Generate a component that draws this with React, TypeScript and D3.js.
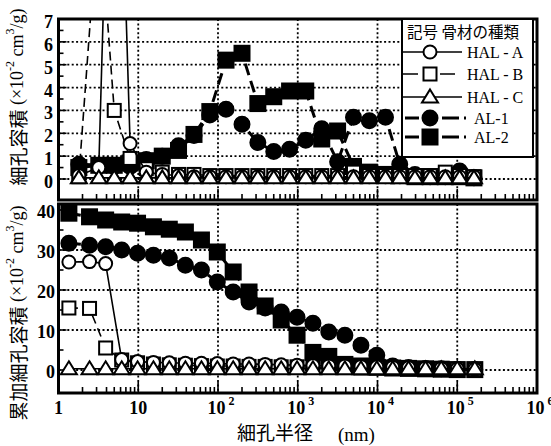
import * as d3 from "d3";

// 細孔半径 (nm) — 分布(上段)と累加(下段)の測定点
const radiusDist = [1.8, 3.2, 5.0, 7.9, 12.6, 20, 32, 50, 79, 126, 200, 316, 500, 790, 1260, 2000, 3160, 5000, 7900, 12600, 19000, 29500, 45700, 70800, 107000, 162000];
const radiusCum = [1.35, 2.45, 3.9, 6.2, 9.8, 15.5, 24.5, 39, 62, 98, 155, 245, 390, 620, 980, 1550, 2450, 3900, 6200, 9800, 15500, 24500, 40000, 63000, 100000, 166000];

// 細孔容積 (×10^-2 cm3/g)
const distHALA = [0.15, 0.5, 24.0, 1.55, 0.3, 0.2, 0.15, 0.1, 0.1, 0.1, 0.1, 0.1, 0.1, 0.1, 0.1, 0.1, 0.1, 0.1, 0.1, 0.1, 0.1, 0.1, 0.1, 0.1, 0.1, 0.1];
const distHALB = [0.1, 12.0, 3.0, 0.9, 0.45, 0.3, 0.2, 0.2, 0.15, 0.15, 0.15, 0.15, 0.15, 0.15, 0.15, 0.15, 0.15, 0.3, 0.15, 0.15, 0.15, 0.15, 0.15, 0.3, 0.15, 0.1];
const distHALC = [0.05, 0.05, 0.05, 0.05, 0.05, 0.05, 0.05, 0.05, 0.05, 0.05, 0.05, 0.05, 0.05, 0.05, 0.05, 0.05, 0.05, 0.05, 0.05, 0.05, 0.05, 0.05, 0.05, 0.05, 0.05, 0.05];
const distAL1 = [0.65, 0.6, 0.55, 0.55, 0.85, 1.0, 1.45, 1.9, 2.8, 3.05, 2.4, 1.6, 1.2, 1.3, 1.7, 2.2, 0.75, 2.7, 2.55, 2.7, 0.65, 0.2, 0.1, 0.1, 0.35, 0.05];
const distAL2 = [0.5, 0.6, 0.6, 0.7, 0.8, 1.0, 1.25, 1.95, 2.95, 5.2, 5.5, 3.3, 3.6, 3.85, 3.85, 1.75, 2.1, 0.55, 0.3, 0.2, 0.15, 0.1, 0.1, 0.1, 0.1, 0.05];

// 累加細孔容積 (×10^-2 cm3/g)
const cumHALA = [27.0, 27.1, 26.6, 2.6, 2.1, 1.9, 1.8, 1.7, 1.7, 1.6, 1.5, 1.5, 1.4, 1.3, 1.2, 1.1, 1.0, 1.0, 0.9, 0.8, 0.7, 0.6, 0.5, 0.4, 0.3, 0.2];
const cumHALB = [15.5, 15.4, 5.5, 2.5, 1.8, 1.5, 1.3, 1.2, 1.1, 1.0, 1.0, 0.9, 0.9, 0.8, 0.8, 0.7, 0.7, 0.6, 0.5, 0.5, 0.4, 0.4, 0.3, 0.2, 0.2, 0.1];
const cumHALC = [0.3, 0.3, 0.3, 0.3, 0.3, 0.3, 0.3, 0.3, 0.3, 0.3, 0.3, 0.3, 0.3, 0.3, 0.3, 0.3, 0.3, 0.3, 0.3, 0.3, 0.3, 0.3, 0.3, 0.3, 0.3, 0.3];
const cumAL1 = [31.7, 31.2, 30.8, 30.0, 29.2, 28.7, 28.0, 26.2, 25.0, 22.0, 19.5, 17.0, 15.5, 14.5, 13.2, 11.7, 9.5, 8.7, 6.2, 3.7, 1.0, 0.6, 0.4, 0.3, 0.2, 0.1];
const cumAL2 = [39.2, 38.3, 37.5, 37.0, 36.7, 35.8, 35.2, 34.5, 32.5, 29.5, 24.5, 19.5, 16.0, 12.5, 8.7, 4.4, 3.4, 1.4, 1.0, 0.7, 0.5, 0.4, 0.3, 0.2, 0.1, 0.1];

const seriesNames = ["HAL - A", "HAL - B", "HAL - C", "AL-1", "AL-2"];
const topTicks = [0, 1, 2, 3, 4, 5, 6, 7];
const botTicks = [0, 10, 20, 30, 40];
const decadeExp = [0, 1, 2, 3, 4, 5, 6];

const X0 = 58.5;
const X1 = 537;
const TOP = { y0: 19, y1: 200 };
const BOT = { y0: 204, y1: 393 };

const x = d3.scaleLog().domain([1, 1e6]).range([X0, X1]);
const yTop = d3.scaleLinear().domain([0, 7]).range([179, 19]);
const yBot = d3.scaleLinear().domain([0, 40]).range([370, 210]);

const serif = "'Liberation Serif', 'DejaVu Serif', serif";
const cjk = "'Noto Sans CJK JP', sans-serif";

type Kind = "circle" | "square" | "triangle";
const styles: { kind: Kind; solid: boolean; dash: string; width: number }[] = [
  { kind: "circle", solid: false, dash: "", width: 1.6 },
  { kind: "square", solid: false, dash: "9 5", width: 1.6 },
  { kind: "triangle", solid: false, dash: "", width: 1.6 },
  { kind: "circle", solid: true, dash: "12 6", width: 3 },
  { kind: "square", solid: true, dash: "12 6", width: 3 },
];

const Marker = ({ kind, solid, cx, cy }: { kind: Kind; solid: boolean; cx: number; cy: number }) => {
  const fill = solid ? "#000" : "#fff";
  if (kind === "circle") {
    return <circle cx={cx} cy={cy} r={solid ? 7.5 : 6.5} fill={fill} stroke="#000" strokeWidth={2} />;
  }
  if (kind === "square") {
    const h = solid ? 7.5 : 6.5;
    return <rect x={cx - h} y={cy - h} width={2 * h} height={2 * h} fill={fill} stroke="#000" strokeWidth={2} />;
  }
  return (
    <path
      d={`M${cx},${cy - 7.5}L${cx + 8},${cy + 5.5}L${cx - 8},${cy + 5.5}Z`}
      fill={fill}
      stroke="#000"
      strokeWidth={2}
      strokeLinejoin="miter"
    />
  );
};

const Panel = ({
  id,
  frame,
  y,
  radii,
  data,
  yGrid,
  yMajor,
  yMinor,
}: {
  id: string;
  frame: { y0: number; y1: number };
  y: d3.ScaleLinear<number, number>;
  radii: number[];
  data: number[][];
  yGrid: number[];
  yMajor: number[];
  yMinor: number[];
}) => {
  const line = d3
    .line<number>()
    .x((_, i) => x(radii[i]))
    .y((d) => y(d));
  const order = [4, 3, 1, 0, 2];
  const minor: number[] = [];
  for (let e = 0; e < 6; e++) for (let m = 2; m <= 9; m++) minor.push(m * Math.pow(10, e));
  return (
    <g>
      <defs>
        <clipPath id={id}>
          <rect x={X0} y={frame.y0} width={X1 - X0} height={frame.y1 - frame.y0} />
        </clipPath>
      </defs>
      <g stroke="#000" strokeWidth={1.8} strokeDasharray="2 2.4">
        {decadeExp.slice(1, 6).map((e) => (
          <line key={e} x1={x(Math.pow(10, e))} x2={x(Math.pow(10, e))} y1={frame.y0} y2={frame.y1} />
        ))}
        {yGrid.map((v) => (
          <line key={v} x1={X0} x2={X1} y1={y(v)} y2={y(v)} />
        ))}
      </g>
      <g stroke="#000" strokeWidth={1.6}>
        {decadeExp.map((e) => (
          <line key={e} x1={x(Math.pow(10, e))} x2={x(Math.pow(10, e))} y1={frame.y1} y2={frame.y1 - 11} />
        ))}
        {minor.map((m) => (
          <line key={m} x1={x(m)} x2={x(m)} y1={frame.y1} y2={frame.y1 - 6} />
        ))}
        {yMajor.map((v) => (
          <line key={v} x1={X0} x2={X0 + 8} y1={y(v)} y2={y(v)} />
        ))}
        {yMinor.map((v) => (
          <line key={v} x1={X0} x2={X0 + 5} y1={y(v)} y2={y(v)} />
        ))}
      </g>
      <g clipPath={`url(#${id})`}>
        {order.map((s) => (
          <g key={s}>
            <path
              d={line(data[s]) || ""}
              fill="none"
              stroke="#000"
              strokeWidth={styles[s].width}
              strokeDasharray={styles[s].dash}
            />
            {data[s].map((v, i) => (
              <Marker key={i} kind={styles[s].kind} solid={styles[s].solid} cx={x(radii[i])} cy={y(v)} />
            ))}
          </g>
        ))}
      </g>
      <rect x={X0} y={frame.y0} width={X1 - X0} height={frame.y1 - frame.y0} fill="none" stroke="#000" strokeWidth={3} />
    </g>
  );
};

const legendRows = [52, 74, 97, 118, 137];
const legendDash = ["", "15 22 15 100", "", "14 23 17 5 2 100", "14 23 17 5 2 100"];

const Legend = () => (
  <g>
    <rect x={402} y={19} width={131} height={138} fill="#fff" stroke="#000" strokeWidth={2} />
    <text x={407} y={38} fontFamily={cjk} fontSize={15.5}>
      記号 骨材の種類
    </text>
    {seriesNames.map((name, s) => {
      const cy = legendRows[s];
      const al = styles[s].solid;
      return (
        <g key={name}>
          <line
            x1={al ? 405 : 403}
            x2={al ? 470 : 462}
            y1={cy}
            y2={cy}
            stroke="#000"
            strokeWidth={styles[s].width}
            strokeDasharray={legendDash[s]}
          />
          <Marker kind={styles[s].kind} solid={al} cx={430} cy={cy} />
          <text x={al ? 474 : 467} y={cy + 6} fontFamily={serif} fontSize={16}>
            {name}
          </text>
        </g>
      );
    })}
  </g>
);

const YTitle = ({ cx, cy, main }: { cx: number; cy: number; main: string }) => (
  <text transform={`translate(${cx},${cy}) rotate(-90)`} textAnchor="middle" dominantBaseline="central" fontSize={18}>
    <tspan fontFamily={cjk} fontSize={19}>
      {main}
    </tspan>
    <tspan fontFamily={serif}> (×10</tspan>
    <tspan fontFamily={serif} fontSize={12} dy={-7}>
      -2
    </tspan>
    <tspan fontFamily={serif} dy={7}>
      {" "}cm
    </tspan>
    <tspan fontFamily={serif} fontSize={12} dy={-7}>
      3
    </tspan>
    <tspan fontFamily={serif} dy={7}>
      /g)
    </tspan>
  </text>
);

export default function App() {
  const topMinor = topTicks.slice(0, 7).map((v) => v + 0.5);
  const botMinor = [5, 15, 25, 35];
  return (
    <svg width={551} height={446} style={{ position: "absolute", left: 0, top: 0, background: "#fff" }}>
      <Panel
        id="clipTop"
        frame={TOP}
        y={yTop}
        radii={radiusDist}
        data={[distHALA, distHALB, distHALC, distAL1, distAL2]}
        yGrid={topTicks.slice(0, 7)}
        yMajor={topTicks}
        yMinor={topMinor}
      />
      <Panel
        id="clipBot"
        frame={BOT}
        y={yBot}
        radii={radiusCum}
        data={[cumHALA, cumHALB, cumHALC, cumAL1, cumAL2]}
        yGrid={botTicks.slice(0, 4)}
        yMajor={botTicks}
        yMinor={botMinor}
      />
      <Legend />
      <g fontFamily={serif} fontWeight="bold" fontSize={18} textAnchor="end">
        {topTicks.map((v) => (
          <text key={v} x={53} y={yTop(v) + 9}>
            {v}
          </text>
        ))}
        {botTicks.map((v) => (
          <text key={v} x={55} y={yBot(v) + 7.5}>
            {v}
          </text>
        ))}
      </g>
      <g fontFamily={serif} fontWeight="bold" fontSize={18} textAnchor="middle">
        {decadeExp.map((e) => (
          <text key={e} x={x(Math.pow(10, e)) + (e > 1 ? 3 : 0)} y={414}>
            {e === 0 ? "1" : "10"}
            {e > 1 && (
              <tspan fontSize={12} dx={3} dy={-9}>
                {e}
              </tspan>
            )}
          </text>
        ))}
      </g>
      <YTitle cx={17} cy={97} main="細孔容積" />
      <YTitle cx={17} cy={313} main="累加細孔容積" />
      <text x={237} y={440} fontFamily={cjk} fontSize={19}>
        細孔半径
      </text>
      <text x={338} y={441} fontFamily={serif} fontSize={19}>
        (nm)
      </text>
    </svg>
  );
}
